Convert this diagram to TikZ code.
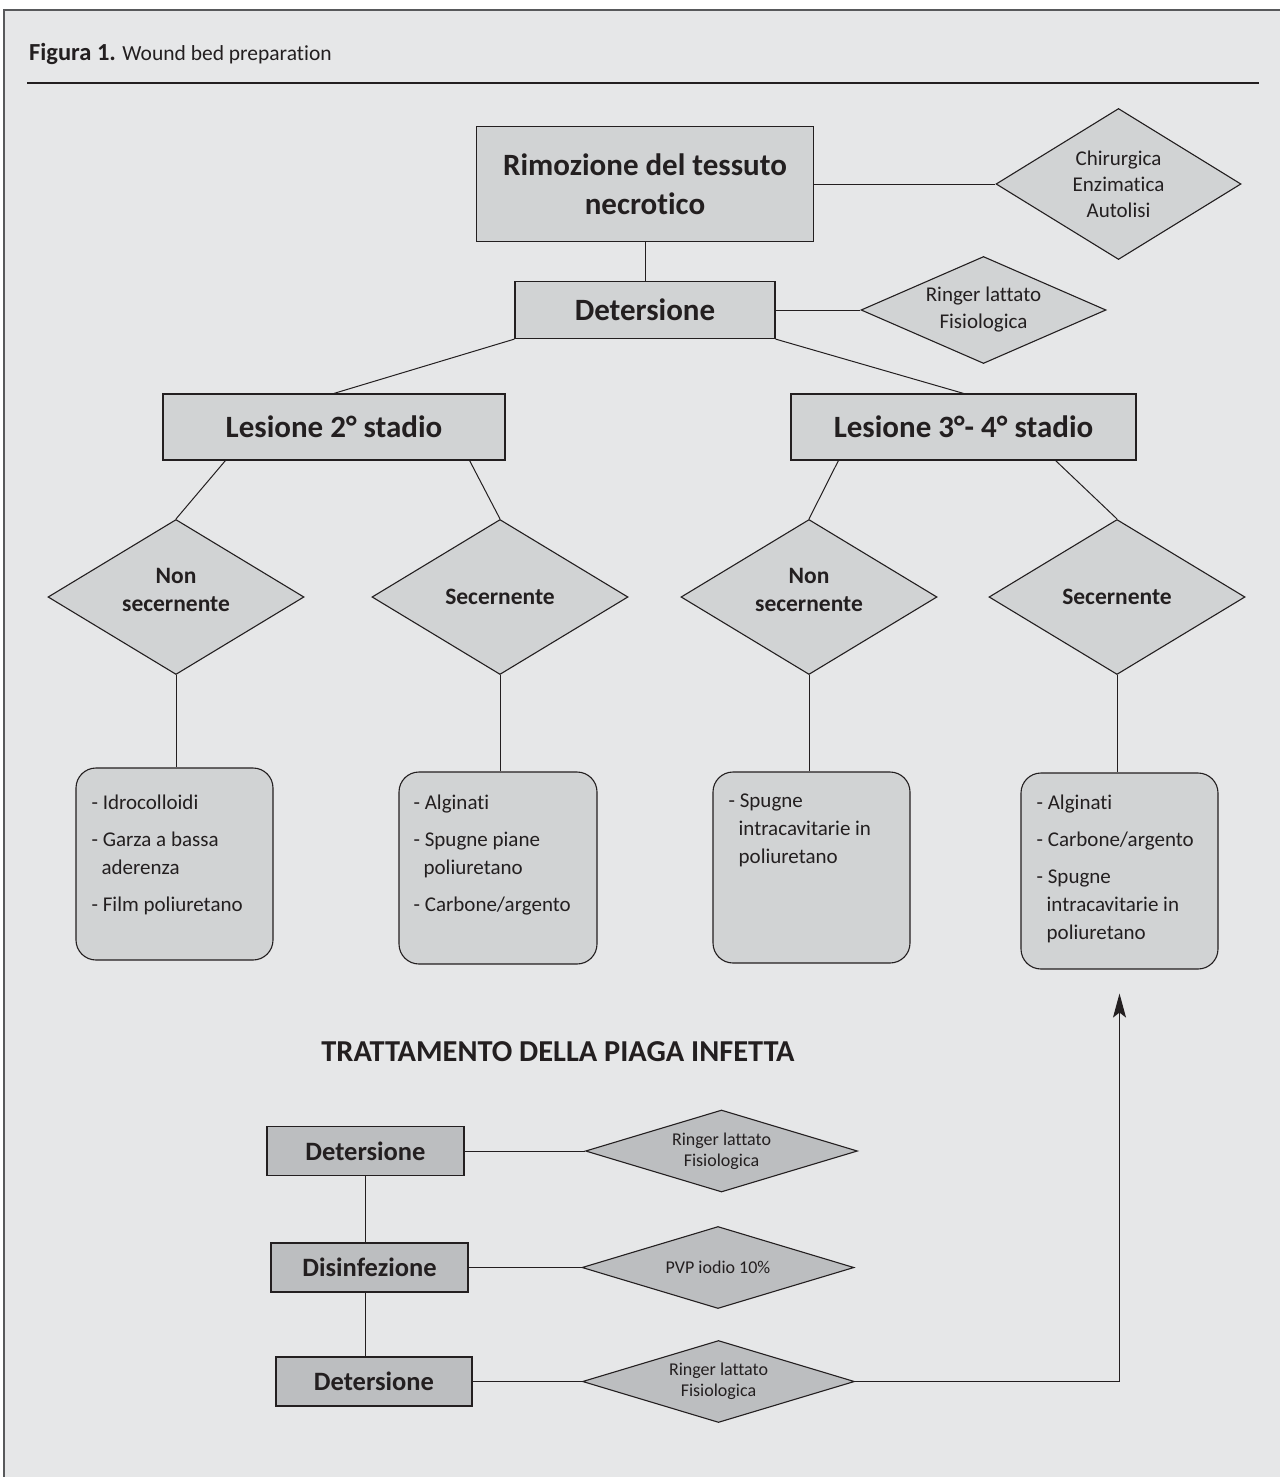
\documentclass[tikz,border=0pt]{standalone}
\usepackage{fontspec}
\setmainfont{Carlito}[Ligatures=NoCommon]
\usetikzlibrary{shapes.geometric,arrows.meta}
\definecolor{bgc}{HTML}{E6E7E8}
\definecolor{lfill}{HTML}{D1D3D4}
\definecolor{dfill}{HTML}{BCBEC0}
\definecolor{ink}{HTML}{231F20}
\definecolor{framec}{HTML}{58595B}
\begin{document}
\begin{tikzpicture}[x=1pt,y=-1pt,
  box/.style={rectangle, draw=ink, fill=lfill, line width=1.2pt, inner sep=0pt, align=center, text=ink},
  dbox/.style={box, fill=dfill},
  dia/.style={diamond, draw=ink, fill=lfill, line width=1.1pt, inner sep=0pt, align=center, text=ink},
  ddia/.style={dia, fill=dfill, shape aspect=3.3, font=\fontsize{18}{21}\selectfont, minimum width=272pt, minimum height=82pt},
  rbox/.style={rectangle, rounded corners=20pt, draw=ink, fill=lfill, line width=1.1pt, inner sep=0pt},
  lst/.style={anchor=north west, inner sep=0pt, align=left, text=ink, font=\fontsize{21}{28}\selectfont},
  conn/.style={draw=ink, line width=1pt},
  bigtxt/.style={font=\fontsize{31}{39}\selectfont\bfseries},
  middia/.style={dia, shape aspect=1.65, font=\fontsize{23.5}{28}\selectfont\bfseries, minimum width=256pt, minimum height=155pt},
  smalltxt/.style={font=\fontsize{26.5}{30}\selectfont\bfseries},
]
\useasboundingbox (0,0) rectangle (1280,1477);
\fill[white] (0,0) rectangle (1280,1477);
\fill[bgc] (4,10) rectangle (1280,1477);
\draw[framec, line width=2pt] (4,1477) -- (4,10) -- (1280,10);

% header
\node[anchor=base west, inner sep=0pt, text=ink, font=\fontsize{21.5}{27}\selectfont] (hdr) at (29,61) {{\fontsize{24.5}{27}\selectfont\bfseries Figura 1.} Wound bed preparation};
\draw[ink, line width=1.3pt] (27,83) -- (1259,83);

% top part
\node[box, bigtxt, minimum width=337pt, minimum height=115pt] (rim) at (645,184) {Rimozione del tessuto\\necrotico};
\node[dia, shape aspect=1.62, font=\fontsize{21}{26}\selectfont, minimum width=245pt, minimum height=151pt] (chir) at (1118.5,184) {Chirurgica\\Enzimatica\\Autolisi};
\node[box, bigtxt, minimum width=260pt, minimum height=57pt] (det) at (645,310) {Detersione};
\node[dia, shape aspect=2.29, font=\fontsize{21}{27}\selectfont, minimum width=245pt, minimum height=107pt] (ring) at (983.5,310) {Ringer lattato\\Fisiologica};
\node[box, bigtxt, minimum width=342pt, minimum height=66pt] (les2) at (334,427) {Lesione 2° stadio};
\node[box, bigtxt, minimum width=345pt, minimum height=66pt] (les3) at (963.5,427) {Lesione 3°- 4° stadio};

\node[middia] (n1) at (176,597) {Non\\secernente\\[-14pt]\mbox{}};
\node[middia] (s1) at (500,597) {Secernente};
\node[middia] (n2) at (809,597) {Non\\secernente\\[-14pt]\mbox{}};
\node[middia] (s2) at (1117,597) {Secernente};

\node[rbox, minimum width=197pt, minimum height=192pt] (b1) at (174.5,864) {};
\node[rbox, minimum width=198pt, minimum height=192pt] (b2) at (498,868) {};
\node[rbox, minimum width=197pt, minimum height=191pt] (b3) at (811.5,867.5) {};
\node[rbox, minimum width=197pt, minimum height=196pt] (b4) at (1119.5,871) {};

\node[lst] (t1) at ([xshift=16pt,yshift=-27pt]b1.north west) {- Idrocolloidi\\[9pt]- Garza a bassa\\\hspace*{10pt}aderenza\\[9pt]- Film poliuretano};
\node[lst] (t2) at ([xshift=15pt,yshift=-23pt]b2.north west) {- Alginati\\[9pt]- Spugne piane\\\hspace*{10pt}poliuretano\\[9pt]- Carbone/argento};
\node[lst] (t3) at ([xshift=16pt,yshift=-22pt]b3.north west) {- Spugne\\\hspace*{10pt}intracavitarie in\\\hspace*{10pt}poliuretano};
\node[lst] (t4) at ([xshift=16pt,yshift=-22pt]b4.north west) {- Alginati\\[9pt]- Carbone/argento\\[9pt]- Spugne\\\hspace*{10pt}intracavitarie in\\\hspace*{10pt}poliuretano};

\draw[conn] (rim.east) -- (chir.west);
\draw[conn] (rim.south) -- (det.north);
\draw[conn] (det.east) -- (ring.west);
\draw[conn] (det.south west) -- (les2.north);
\draw[conn] (det.south east) -- (les3.north);
\draw[conn] ([xshift=63pt]les2.south west) -- (n1.north);
\draw[conn] ([xshift=-36pt]les2.south east) -- (s1.north);
\draw[conn] ([xshift=48pt]les3.south west) -- (n2.north);
\draw[conn] ([xshift=-81pt]les3.south east) -- (s2.north);
\draw[conn] (n1.south) -- (n1.south |- b1.north);
\draw[conn] (s1.south) -- (s1.south |- b2.north);
\draw[conn] (n2.south) -- (n2.south |- b3.north);
\draw[conn] (s2.south) -- (s2.south |- b4.north);

% bottom part
\node[inner sep=0pt, text=ink, font=\fontsize{30.4}{36}\selectfont\bfseries] (ttl) at (558,1052) {TRATTAMENTO DELLA PIAGA INFETTA};

\node[dbox, smalltxt, minimum width=197pt, minimum height=49pt] (db1) at (365.5,1151) {Detersione};
\node[dbox, smalltxt, minimum width=197pt, minimum height=49pt] (dis) at (369.5,1267.5) {Disinfezione};
\node[dbox, smalltxt, minimum width=196pt, minimum height=49pt] (db2) at (374,1381.5) {Detersione};

\node[ddia] (dd1) at (721.5,1151) {Ringer lattato\\Fisiologica};
\node[ddia] (dd2) at (718,1267.5) {PVP iodio 10\%};
\node[ddia] (dd3) at (718.5,1381.5) {Ringer lattato\\Fisiologica};

\draw[conn] (db1.east) -- (dd1.west);
\draw[conn] (dis.east) -- (dd2.west);
\draw[conn] (db2.east) -- (dd3.west);
\draw[conn] (db1.south) -- (db1.south |- dis.north);
\draw[conn] (db1.south |- dis.south) -- (db1.south |- db2.north);
\draw[conn, -{Stealth[length=24pt, width=13pt, inset=5pt]}] (dd3.east) -| ([yshift=-24pt]b4.south);
\end{tikzpicture}
\end{document}
